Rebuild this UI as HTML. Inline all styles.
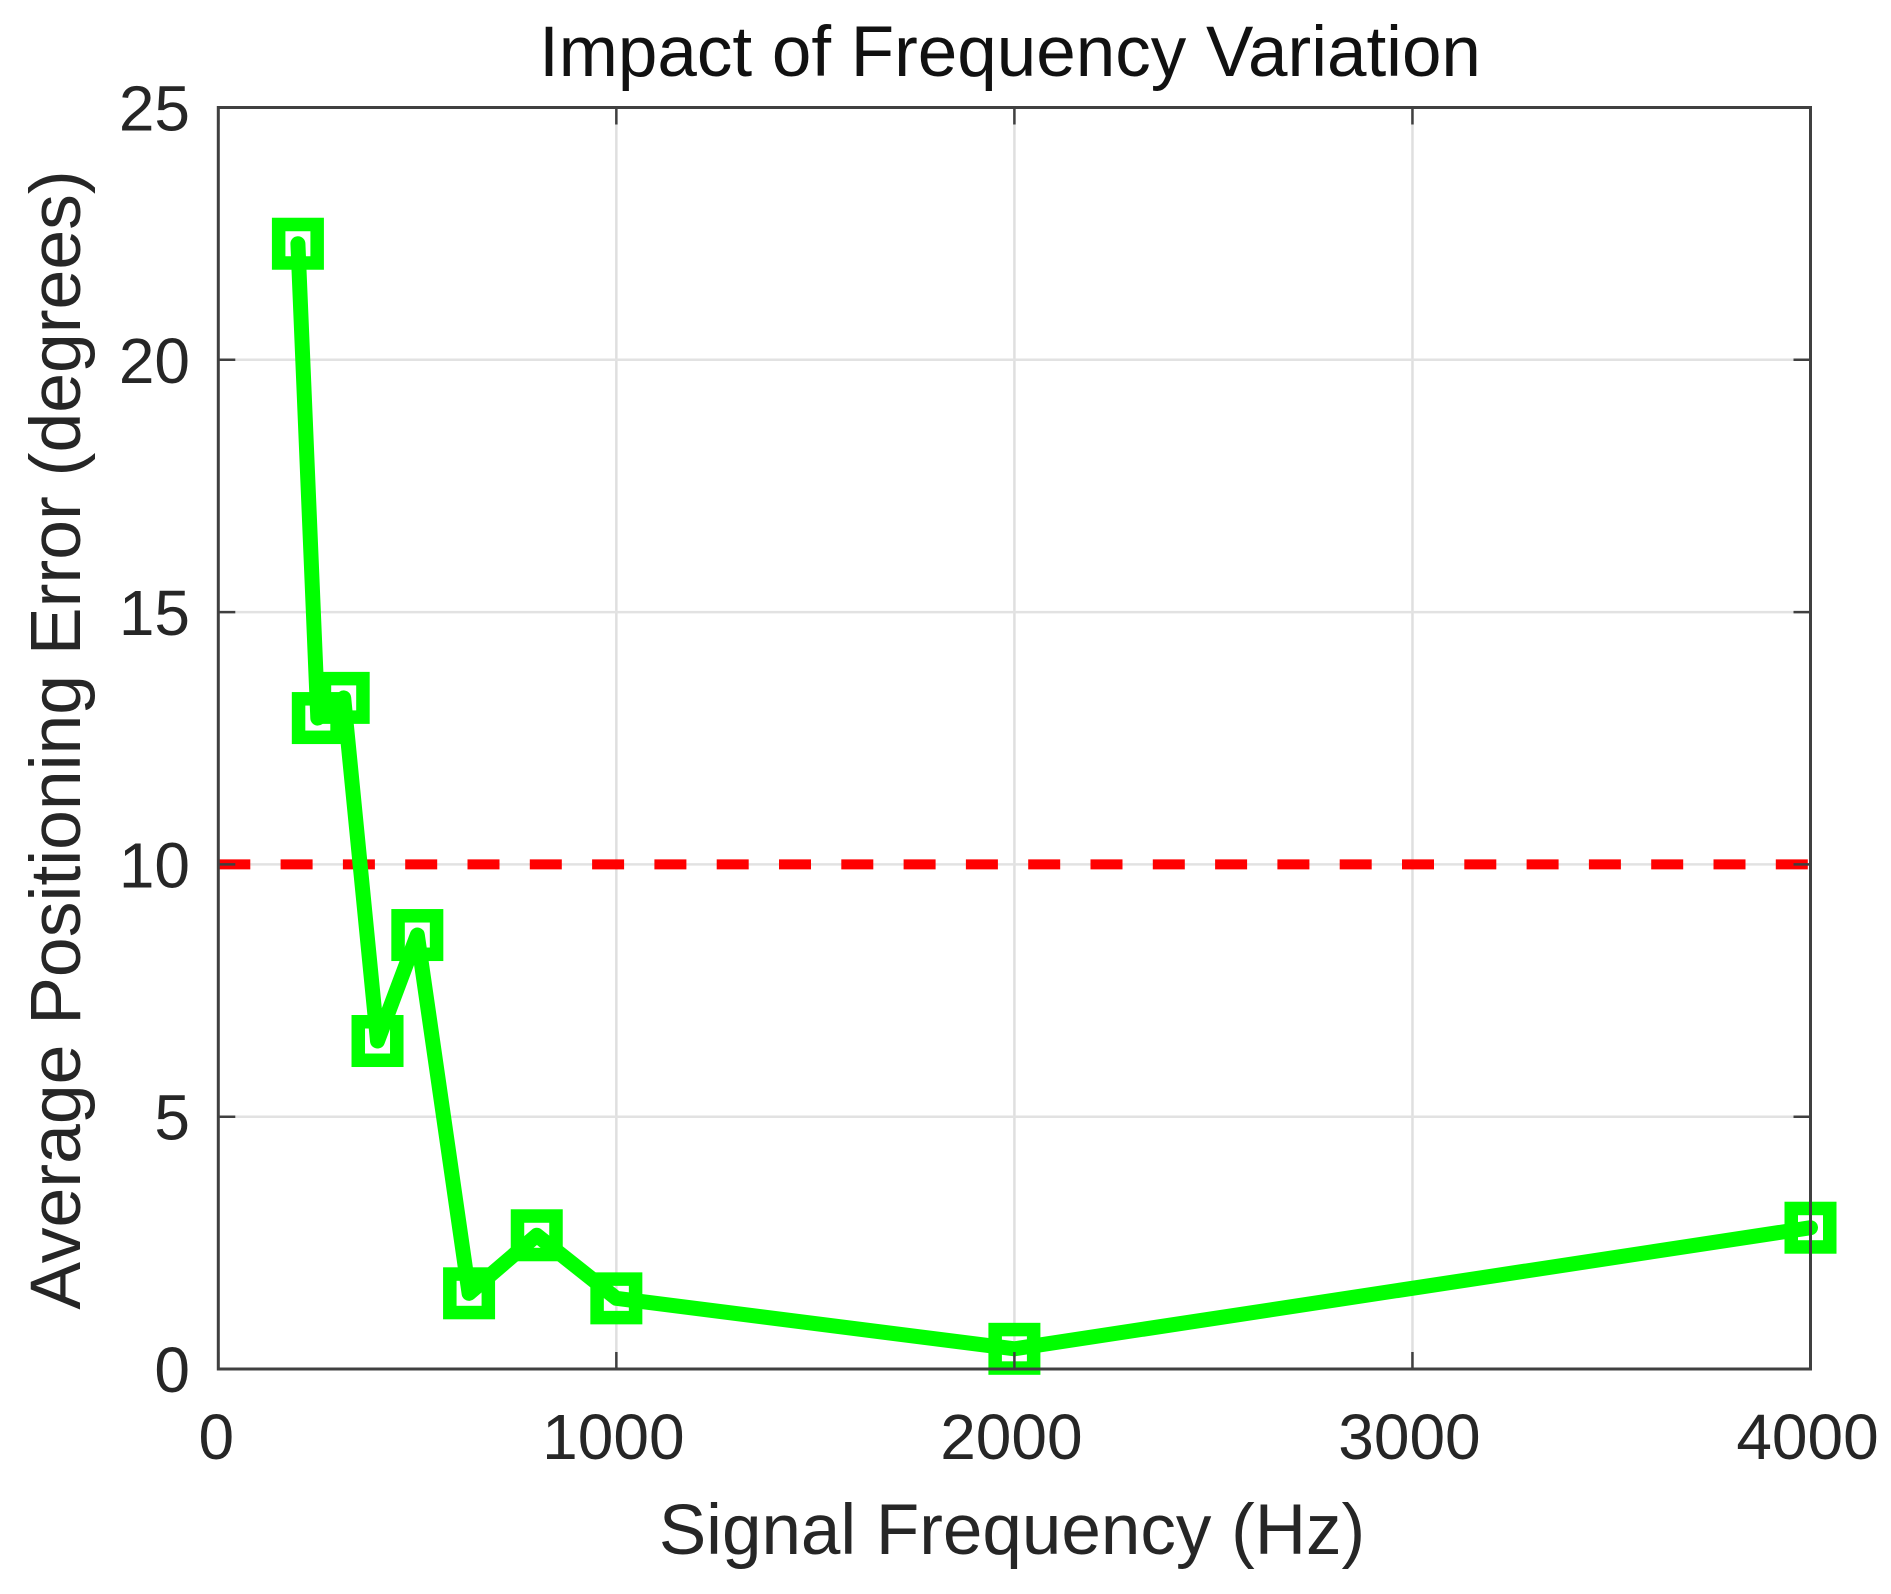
<!DOCTYPE html>
<html lang="en">
<head>
<meta charset="utf-8">
<title>Impact of Frequency Variation</title>
<style>
html,body{margin:0;padding:0;background:#fff;width:1891px;height:1594px;overflow:hidden}
svg{display:block}
text{font-family:"Liberation Sans",Arial,sans-serif;fill:#262626}
</style>
</head>
<body>
<svg id="chart" xmlns="http://www.w3.org/2000/svg" width="1891" height="1594" viewBox="0 0 1891 1594">
  <rect x="0" y="0" width="1891" height="1594" fill="#ffffff"/>
  <g id="grid"></g>
  <g id="threshold"></g>
  <g id="series"></g>
  <g id="axes"></g>
  <g id="labels"></g>
  <text x="1010" y="76" text-anchor="middle" font-size="71" style="fill:#111">Impact of Frequency Variation</text>
  <text x="1012" y="1554" text-anchor="middle" font-size="71">Signal Frequency (Hz)</text>
  <text transform="translate(80 740) rotate(-90)" text-anchor="middle" font-size="71.5">Average Positioning Error (degrees)</text>
</svg>
<script>
const frequencies = [200, 250, 315, 400, 500, 630, 800, 1000, 2000, 4000];
const errors = [22.3, 12.9, 13.3, 6.5, 8.6, 1.5, 2.65, 1.4, 0.4, 2.8];
const xTicks = [0, 1000, 2000, 3000, 4000];
const yTicks = [0, 5, 10, 15, 20, 25];
const thresholdValue = [10];

const NS = 'http://www.w3.org/2000/svg';
const plot = {left: 218.3, right: 1810.5, top: 107.5, bottom: 1369};
const xMax = 4000;
const yMax = 25;
function xScale(v) { return plot.left + (v / xMax) * (plot.right - plot.left); }
function yScale(v) { return plot.bottom - (v / yMax) * (plot.bottom - plot.top); }
function make(tag, attrs, parent) {
  const el = document.createElementNS(NS, tag);
  for (const k in attrs) el.setAttribute(k, attrs[k]);
  parent.appendChild(el);
  return el;
}
const grid = document.getElementById('grid');
const axes = document.getElementById('axes');
const labels = document.getElementById('labels');
const thresholdGroup = document.getElementById('threshold');
const series = document.getElementById('series');
const AXIS = '#404040';
const TICK = 17;

xTicks.forEach(function (t) {
  const x = xScale(t);
  if (t > 0 && t < xMax) {
    const g = make('line', {x1: x, x2: x, y1: plot.top, y2: plot.bottom, stroke: '#dfdfdf', 'stroke-width': 2.5}, grid);
    
    
  }
  const a = make('line', {x1: x, x2: x, y1: plot.bottom, y2: plot.bottom - TICK, stroke: AXIS, 'stroke-width': 2.5}, axes);
  
  
  const b = make('line', {x1: x, x2: x, y1: plot.top, y2: plot.top + TICK, stroke: AXIS, 'stroke-width': 2.5}, axes);
  
  
  const lab = make('text', {x: x - (t === 0 ? 2 : 3), y: 1459, 'text-anchor': 'middle', 'font-size': 64}, labels);
  
  
  lab.textContent = String(t);
});

yTicks.forEach(function (t) {
  const y = yScale(t);
  if (t > 0 && t < yMax) {
    const g = make('line', {x1: plot.left, x2: plot.right, y1: y, y2: y, stroke: '#e2e2e2', 'stroke-width': 2.5}, grid);
    
    
  }
  const a = make('line', {x1: plot.left, x2: plot.left + TICK, y1: y, y2: y, stroke: AXIS, 'stroke-width': 2.5}, axes);
  
  
  const b = make('line', {x1: plot.right, x2: plot.right - TICK, y1: y, y2: y, stroke: AXIS, 'stroke-width': 2.5}, axes);
  
  
  const lab = make('text', {x: 190, y: y + 23, 'text-anchor': 'end', 'font-size': 64}, labels);
  
  
  lab.textContent = String(t);
});

const frame = make('rect', {x: plot.left, y: plot.top, width: plot.right - plot.left, height: plot.bottom - plot.top, fill: 'none', stroke: AXIS, 'stroke-width': 3}, axes);



const thresholdLine = make('line', {x1: plot.left, x2: plot.right, y1: yScale(thresholdValue[0]), y2: yScale(thresholdValue[0]), stroke: '#ff0000', 'stroke-width': 10, 'stroke-dasharray': '32 30.3'}, thresholdGroup);



const pts = frequencies.map(function (f, i) { return xScale(f) + ',' + yScale(errors[i]); }).join(' ');
const polyline = make('polyline', {points: pts, fill: 'none', stroke: '#00ff00', 'stroke-width': 15, 'stroke-linejoin': 'round', 'stroke-linecap': 'round'}, series);



frequencies.forEach(function (f, i) {
  const size = 38.5;
  const m = make('rect', {x: xScale(f) - size / 2, y: yScale(errors[i]) - size / 2, width: size, height: size, fill: 'none', stroke: '#00ff00', 'stroke-width': 13.5}, series);
  
  
});
</script>
</body>
</html>
